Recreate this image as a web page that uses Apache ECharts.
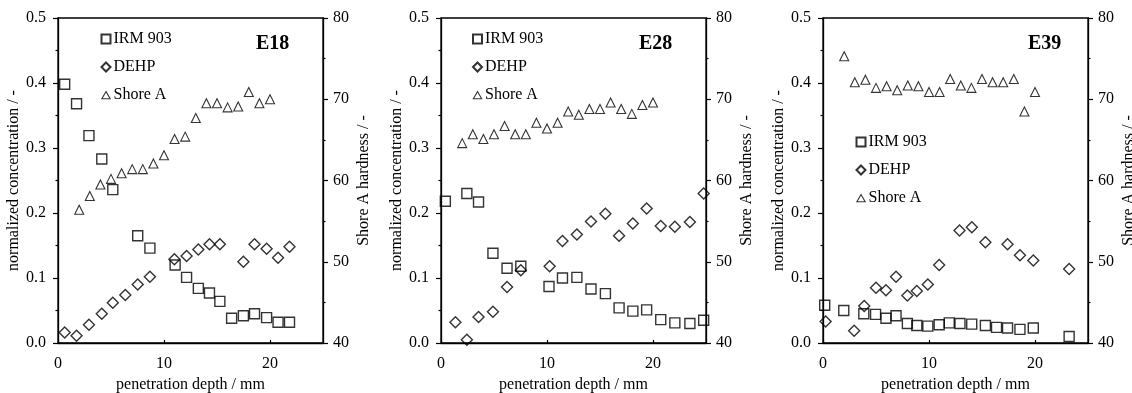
<!DOCTYPE html>
<html>
<head>
<meta charset="utf-8">
<script src="https://cdn.jsdelivr.net/npm/echarts@6/dist/echarts.min.js"></script>
<style>
html,body{margin:0;padding:0;background:#fff;}
#chart{width:1132px;height:393px;}
</style>
</head>
<body>
<div id="chart"></div>
<script>
// ---- data ----
const panelTitles = ['E18', 'E28', 'E39'];
const seriesNames = ['IRM 903', 'DEHP', 'Shore A'];
const xTicks = [0, 10, 20];

// E18
const irmX18 = [0.63,1.75,2.92,4.13,5.17,7.52,8.67,11.05,12.13,13.24,14.29,15.27,16.38,17.49,18.54,19.68,20.76,21.84];
const irmY18 = [0.398,0.368,0.319,0.283,0.236,0.165,0.146,0.120,0.101,0.084,0.077,0.064,0.038,0.042,0.045,0.039,0.032,0.032];
const dehpX18 = [0.63,1.75,2.92,4.13,5.17,6.35,7.52,8.67,10.98,12.13,13.24,14.29,15.27,17.49,18.54,19.68,20.76,21.84];
const dehpY18 = [0.016,0.011,0.028,0.045,0.062,0.074,0.090,0.102,0.129,0.134,0.144,0.152,0.152,0.125,0.152,0.145,0.131,0.148];
const shoreX18 = [2,3,4,5,6,7,8,9,10,11,12,13,14,15,16,17,18,19,20];
const shoreY18 = [56.4,58.1,59.5,60.2,60.9,61.4,61.4,62.1,63.1,65.1,65.4,67.7,69.5,69.5,69.0,69.1,70.9,69.5,70.0];

// E28
const irmX28 = [0.41,2.44,3.54,4.9,6.23,7.53,10.19,11.46,12.82,14.15,15.51,16.8,18.1,19.4,20.73,22.06,23.48,24.78];
const irmY28 = [0.218,0.230,0.217,0.138,0.115,0.118,0.087,0.100,0.101,0.083,0.076,0.054,0.049,0.051,0.036,0.031,0.030,0.035];
const dehpX28 = [1.36,2.44,3.54,4.9,6.23,7.53,10.25,11.46,12.82,14.15,15.51,16.8,18.1,19.4,20.73,22.06,23.48,24.78];
const dehpY28 = [0.032,0.005,0.040,0.048,0.086,0.112,0.118,0.157,0.167,0.187,0.199,0.165,0.184,0.207,0.180,0.179,0.186,0.230];
const shoreX28 = [2,3,4,5,6,7,8,9,10,11,12,13,14,15,16,17,18,19,20];
const shoreY28 = [64.6,65.7,65.1,65.7,66.7,65.7,65.7,67.1,66.4,67.1,68.5,68.1,68.8,68.8,69.6,68.8,68.2,69.3,69.6];

// E39
const irmX39 = [0.16,1.96,3.85,4.96,5.94,6.89,7.96,8.85,9.89,10.96,11.91,12.92,14.03,15.32,16.37,17.41,18.58,19.84,23.22];
const irmY39 = [0.058,0.050,0.045,0.044,0.038,0.042,0.030,0.027,0.026,0.028,0.031,0.030,0.029,0.027,0.024,0.023,0.021,0.023,0.010];
const dehpX39 = [0.25,2.94,3.89,5.0,5.94,6.89,7.96,8.85,9.89,10.96,12.88,14.04,15.32,17.41,18.58,19.84,23.22];
const dehpY39 = [0.033,0.019,0.057,0.085,0.081,0.102,0.073,0.080,0.090,0.120,0.173,0.178,0.155,0.152,0.135,0.127,0.114];
const shoreX39 = [2,3,4,5,6,7,8,9,10,11,12,13,14,15,16,17,18,19,20];
const shoreY39 = [75.3,72.1,72.4,71.4,71.6,71.1,71.7,71.6,70.9,70.9,72.5,71.7,71.4,72.5,72.1,72.1,72.5,68.5,70.9];

const panels = [
  {irm:[irmX18,irmY18], dehp:[dehpX18,dehpY18], shore:[shoreX18,shoreY18]},
  {irm:[irmX28,irmY28], dehp:[dehpX28,dehpY28], shore:[shoreX28,shoreY28]},
  {irm:[irmX39,irmY39], dehp:[dehpX39,dehpY39], shore:[shoreX39,shoreY39]}
];

// ---- layout (styles) ----
const FONT = '"Liberation Serif", "Times New Roman", serif';
const gridLefts = [58, 441, 823];
const gridW = 265;
const gridTop = 18, gridH = 325;
const legendPos = [[100.5, 31], [472, 31], [855.5, 134]];
const titleLeft = [256, 639, 1028];

const zip = (xs, ys) => xs.map((x, i) => [x, ys[i]]);
const triIcon = 'path://M0,0M10,10M5,1.2L9.6,9.2L0.4,9.2Z';

const option = {
  animation: false,
  backgroundColor: '#fff',
  textStyle: {fontFamily: FONT, color: '#000'},
  title: panelTitles.map((t, i) => ({
    text: t, left: titleLeft[i], top: 34, padding: 0,
    textStyle: {fontFamily: FONT, fontWeight: 'bold', fontSize: 20, color: '#000'}
  })),
  legend: legendPos.map(p => ({
    left: p[0], top: p[1], orient: 'vertical', padding: 0,
    itemWidth: 9, itemHeight: 9, itemGap: 12,
    selectedMode: false,
    textStyle: {fontFamily: FONT, fontSize: 16, color: '#000', lineHeight: 16, padding: [0,0,0,-2]},
    data: [
      {name: seriesNames[0], icon: 'rect'},
      {name: seriesNames[1], icon: 'diamond'},
      {name: seriesNames[2], icon: triIcon, itemStyle: {borderWidth: 1.1}}
    ]
  })),
  grid: gridLefts.map(l => ({
    left: l, top: gridTop, width: gridW, height: gridH,
    outerBoundsMode: 'none', containLabel: false,
    show: true, borderColor: '#000', borderWidth: 1.3, backgroundColor: 'transparent'
  })),
  xAxis: gridLefts.map((l, i) => ({
    type: 'value', gridIndex: i, min: 0, max: 25, interval: 10,
    name: 'penetration depth / mm', nameLocation: 'middle', nameGap: 34,
    nameTextStyle: {fontFamily: FONT, fontSize: 16, color: '#000'},
    axisLine: {show: true, lineStyle: {color: '#000', width: 1.3}},
    axisTick: {show: true, inside: true, length: 3, lineStyle: {color: '#000', width: 1.2}},
    axisLabel: {fontFamily: FONT, fontSize: 16, color: '#000', margin: 13, showMaxLabel: false,
      formatter: v => (xTicks.indexOf(v) >= 0 ? String(v) : '')},
    splitLine: {show: false}
  })),
  yAxis: [],
  series: []
};

gridLefts.forEach((l, i) => {
  option.yAxis.push({
    type: 'value', gridIndex: i, position: 'left', min: 0, max: 0.5, interval: 0.1,
    name: 'normalized concentration / -', nameLocation: 'middle', nameGap: 30,
    nameTextStyle: {fontFamily: FONT, fontSize: 16, color: '#000'},
    axisLine: {show: true, lineStyle: {color: '#000', width: 1.3}},
    axisTick: {show: true, inside: false, length: 5, lineStyle: {color: '#000', width: 1.2}},
    minorTick: {show: true, splitNumber: 2, length: 2.5, lineStyle: {color: '#000', width: 1.2}},
    axisLabel: {fontFamily: FONT, fontSize: 16, color: '#000', margin: 12, formatter: v => v.toFixed(1)},
    splitLine: {show: false}, minorSplitLine: {show: false}
  });
  option.yAxis.push({
    type: 'value', gridIndex: i, position: 'right', min: 40, max: 80, interval: 10,
    name: 'Shore A hardness / -', nameLocation: 'middle', nameGap: 33,
    nameTextStyle: {fontFamily: FONT, fontSize: 16, color: '#000'},
    axisLine: {show: true, lineStyle: {color: '#000', width: 1.3}},
    axisTick: {show: true, inside: false, length: 5, lineStyle: {color: '#000', width: 1.2}},
    minorTick: {show: true, splitNumber: 2, length: 2.5, lineStyle: {color: '#000', width: 1.2}},
    axisLabel: {fontFamily: FONT, fontSize: 16, color: '#000', margin: 10},
    splitLine: {show: false}, minorSplitLine: {show: false}
  });
  const p = panels[i];
  const base = {type: 'scatter', xAxisIndex: i,
    itemStyle: {color: 'rgba(255,255,255,0)', borderColor: '#000', borderWidth: 1.4},
    emphasis: {disabled: true}};
  option.series.push(Object.assign({}, base, {name: seriesNames[0], yAxisIndex: 2*i, symbol: 'rect', symbolSize: 10, data: zip(p.irm[0], p.irm[1])}));
  option.series.push(Object.assign({}, base, {name: seriesNames[1], yAxisIndex: 2*i, symbol: 'diamond', symbolSize: 11, data: zip(p.dehp[0], p.dehp[1])}));
  option.series.push(Object.assign({}, base, {name: seriesNames[2], yAxisIndex: 2*i+1, symbol: 'triangle', symbolSize: 9,
    itemStyle: {color: 'rgba(255,255,255,0)', borderColor: '#000', borderWidth: 1.1},
    data: zip(p.shore[0], p.shore[1])}));
});

const chart = echarts.init(document.getElementById('chart'), null, {renderer: 'canvas'});
chart.setOption(option);
</script>
</body>
</html>
